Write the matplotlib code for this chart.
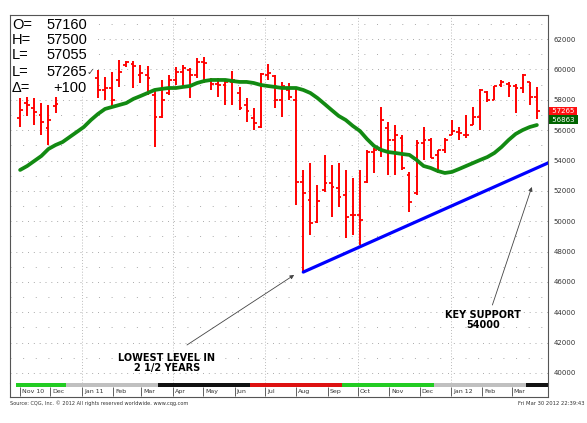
import numpy as np
import pandas as pd
import matplotlib
matplotlib.use('Agg')
import matplotlib.pyplot as plt
import matplotlib.dates as mdates
from matplotlib.patches import Rectangle

# weekly bars, Nov 2010 - Mar 2012
dates = pd.date_range('2010-11-01', periods=74, freq='7D')

opens = [56800, 57790, 57460, 57000, 56150, 57600, 58650, 59040, 59310, 59570,
         59180, 59440, 58650, 58780, 59310, 60300, 60360, 59640, 59640, 58320,
         56870, 58450, 59310, 59840, 59970, 59640, 60490, 59310, 59040, 58980,
         59180, 58450, 57660, 56800, 56210, 59640, 59570, 57990, 58650, 57990,
         52590, 51400, 49950, 52060, 52520, 52190, 51730, 50410, 50410, 52590,
         54560, 54700, 56150, 55350, 55490, 53050, 51860, 55160, 55350, 54370,
         54700, 55680, 55880, 55680, 56340, 56870, 58520, 57990, 58980, 59040,
         58910, 58780, 59180, 58190]
highs = [58120, 58190, 58120, 57790, 57660, 58190, 59310, 59640, 59840, 60100,
         59840, 59970, 59510, 59840, 60630, 60560, 60560, 60300, 60230, 58650,
         59310, 59640, 60170, 60300, 60100, 60760, 60820, 59440, 59440, 59310,
         59900, 58850, 58120, 57460, 59770, 60360, 59640, 59180, 59110, 58850,
         53380, 53840, 52390, 54370, 53710, 53840, 53380, 52850, 53380, 54700,
         54830, 57530, 56540, 56340, 55680, 53250, 55350, 56210, 55490, 54700,
         55490, 56670, 56210, 57000, 57530, 58720, 58580, 58910, 59310, 59180,
         59040, 59700, 59180, 58850]
lows = [56210, 56940, 56340, 55680, 55020, 57130, 58390, 58520, 58650, 58780,
        58450, 58120, 57990, 57530, 58850, 60170, 58780, 59110, 58320, 54890,
        56800, 58320, 58980, 58850, 58120, 59440, 59110, 58650, 58190, 57660,
        57660, 57330, 56540, 56010, 56150, 59310, 57460, 56870, 57990, 51070,
        46650, 49090, 49880, 51930, 50280, 50940, 48900, 49090, 48440, 52520,
        53180, 54230, 53050, 53050, 53380, 50610, 51730, 54040, 54170, 53180,
        54500, 55680, 55350, 55490, 56340, 56010, 57860, 57990, 58850, 58190,
        57130, 58450, 57660, 56740]
closes = [57330, 57660, 57200, 56540, 56670, 57730, 59040, 59310, 59570, 59180,
          59440, 58650, 58780, 57990, 59840, 60490, 60230, 59770, 59440, 56870,
          57990, 59310, 59840, 60100, 59640, 60490, 60430, 59040, 58980, 59180,
          59310, 57460, 57270, 56470, 59700, 59770, 57990, 58910, 58190, 52590,
          51860, 49880, 51330, 52520, 52260, 51600, 50280, 50410, 50080, 54560,
          54700, 56670, 55350, 55680, 53510, 51270, 55160, 55350, 54170, 54700,
          55350, 55950, 55820, 55680, 56870, 58650, 57990, 58910, 59180, 58910,
          58780, 59640, 58190, 57265]
# moving average
ma = [53380, 53640, 53970, 54300, 54760, 55020, 55220, 55550, 55880, 56210,
      56670, 57070, 57400, 57530, 57660, 57790, 58060, 58250, 58450, 58650,
      58720, 58780, 58780, 58850, 58910, 59110, 59240, 59310, 59310, 59310,
      59240, 59180, 59180, 59110, 58980, 58910, 58850, 58780, 58780, 58780,
      58650, 58450, 58120, 57730, 57330, 56940, 56670, 56280, 55950, 55420,
      54960, 54700, 54560, 54500, 54430, 54370, 54040, 53640, 53510, 53310,
      53180, 53250, 53440, 53640, 53840, 54040, 54230, 54500, 54890, 55350,
      55750, 56010, 56210, 56340]

trend_dates = ['2011-08-08', '2012-04-06']
trend_vals = [46650, 53840]

band_edges = ['2010-10-28', '2010-12-16', '2011-03-17', '2011-06-16',
              '2011-09-15', '2011-12-15', '2012-03-15', '2012-04-06']
band_colors = ['#22cc22', '#c0c0c0', '#111111', '#dd1111',
               '#22cc22', '#c0c0c0', '#111111']

months = pd.date_range('2010-11-01', '2012-03-01', freq='MS')
month_labels = ['Nov 10', 'Dec', 'Jan 11', 'Feb', 'Mar', 'Apr', 'May', 'Jun',
                'Jul', 'Aug', 'Sep', 'Oct', 'Nov', 'Dec', 'Jan 12', 'Feb', 'Mar']
quarters = ['2011-01-01', '2011-04-01', '2011-07-01', '2011-10-01', '2012-01-01']

ohlc_labels = ['O=', 'H=', 'L=', 'L=', '\u0394=']
ohlc_values = ['57160', '57500', '57055', '57265', '+100']

W, H = 587, 423
def fx(px):
    return px / W
def fy(py):
    return 1 - py / H

fig = plt.figure(figsize=(W / 100, H / 100), dpi=100)
ax = fig.add_axes([fx(10), fy(383), (548 - 10) / W, (383 - 15) / H])
strip = fig.add_axes([fx(10), fy(397), (548 - 10) / W, 14 / H])

x = mdates.date2num(dates)
ax.vlines(x, lows, highs, color='#ff0000', lw=1.4, zorder=4)
ax.hlines(opens, x - 2.8, x, color='#ff0000', lw=1.3, zorder=4)
ax.hlines(closes, x, x + 2.8, color='#ff0000', lw=1.3, zorder=4)
ax.plot(x, ma, color='#128a12', lw=2.7, solid_capstyle='round', zorder=5)
ax.plot(mdates.date2num(pd.to_datetime(trend_dates)), trend_vals,
        color='#0000ff', lw=2.3, solid_capstyle='round', zorder=5)

xmin = mdates.date2num(pd.Timestamp('2010-10-22'))
xmax = mdates.date2num(pd.Timestamp('2012-04-06'))
ax.set_xlim(xmin, xmax)
ax.set_ylim(39340, 63590)

ax.yaxis.tick_right()
ax.set_yticks(range(40000, 62001, 2000))
ax.set_yticklabels([str(v) for v in range(40000, 62001, 2000)])
ax.set_yticks(range(41000, 63001, 2000), minor=True)
ax.tick_params(axis='y', which='both', length=0, labelsize=5, colors='#333333', pad=4)
ax.set_xticks([])
ax.grid(axis='y', which='major', linestyle=(0, (1, 5)), color='#aaaaaa', lw=0.7)
ax.grid(axis='y', which='minor', linestyle=(0, (1, 12)), color='#aaaaaa', lw=0.7)
for q in quarters:
    ax.axvline(mdates.date2num(pd.Timestamp(q)), linestyle=(0, (1, 2)),
               color='#bbbbbb', lw=0.7, zorder=0)
for s in ['left', 'top', 'right']:
    ax.spines[s].set_color('#555555')
    ax.spines[s].set_zorder(10)
ax.spines['bottom'].set_visible(False)

# price tags on right
ax.text(1.003, 57265, ' 57265 ', transform=ax.get_yaxis_transform(), color='white',
        fontsize=5, va='center', ha='left',
        bbox=dict(fc='#ff1010', ec='none', pad=0.8), clip_on=False)
ax.text(1.003, 56700, ' 56863 ', transform=ax.get_yaxis_transform(), color='white',
        fontsize=5, va='center', ha='left',
        bbox=dict(fc='#006400', ec='none', pad=0.8), clip_on=False)

# white box behind OHLC readout
ax.add_patch(Rectangle((0, 0.783), 0.158, 0.217, transform=ax.transAxes,
                       fc='white', ec='none', zorder=6))
rows_y = [25, 40, 55, 72, 88]
for lab, val, ry in zip(ohlc_labels, ohlc_values, rows_y):
    fig.text(fx(12), fy(ry), lab, fontsize=10.5, family=['Liberation Sans', 'DejaVu Sans'],
             va='center', ha='left')
    fig.text(fx(87), fy(ry), val, fontsize=10.5, family=['Liberation Sans', 'DejaVu Sans'],
             va='center', ha='right')
fig.text(fx(87), fy(72), '\u2713', fontsize=7, color='#444444', va='center', ha='left')

# annotations
ax.annotate('', xy=(mdates.date2num(pd.Timestamp('2011-07-30')), 46460),
            xytext=(mdates.date2num(pd.Timestamp('2011-04-15')), 41845),
            arrowprops=dict(arrowstyle='-|>', color='#444444', lw=0.6,
                            mutation_scale=6, shrinkA=0, shrinkB=0))
ax.annotate('', xy=(mdates.date2num(pd.Timestamp('2012-03-21')), 52257),
            xytext=(mdates.date2num(pd.Timestamp('2012-02-11')), 44480),
            arrowprops=dict(arrowstyle='-|>', color='#444444', lw=0.6,
                            mutation_scale=6, shrinkA=0, shrinkB=0))
ax.text(mdates.date2num(pd.Timestamp('2011-03-26')), 40660, 'LOWEST LEVEL IN\n2 1/2 YEARS',
        ha='center', va='center', fontsize=7, fontweight='bold', linespacing=1.0)
ax.text(mdates.date2num(pd.Timestamp('2012-02-02')), 43490, 'KEY SUPPORT\n54000',
        ha='center', va='center', fontsize=7, fontweight='bold', linespacing=1.0)

# contract band and month axis
strip.set_xlim(xmin, xmax)
strip.set_ylim(0, 1)
edges = mdates.date2num(pd.to_datetime(band_edges))
for i, c in enumerate(band_colors):
    strip.broken_barh([(edges[i], edges[i + 1] - edges[i])], (0.75, 0.25), facecolors=c)
mx = mdates.date2num(months)
strip.vlines(mx, 0.05, 0.75, color='#444444', lw=0.6)
for m, lab in zip(mx, month_labels):
    strip.text(m + 2, 0.38, lab, fontsize=4.5, color='#333333', va='center', ha='left')
strip.set_xticks([])
strip.set_yticks([])
for s in strip.spines.values():
    s.set_color('#555555')
strip.spines['top'].set_visible(False)

fig.text(fx(10), fy(403), 'Source: CQG, Inc. \u00a9 2012 All rights reserved worldwide. www.cqg.com',
         fontsize=3.6, color='#333333', va='center', ha='left')
fig.text(fx(584), fy(403), 'Fri Mar 30 2012 22:39:43', fontsize=3.8, color='#333333',
         va='center', ha='right')

fig.savefig('out.png', dpi=100, facecolor='white')
